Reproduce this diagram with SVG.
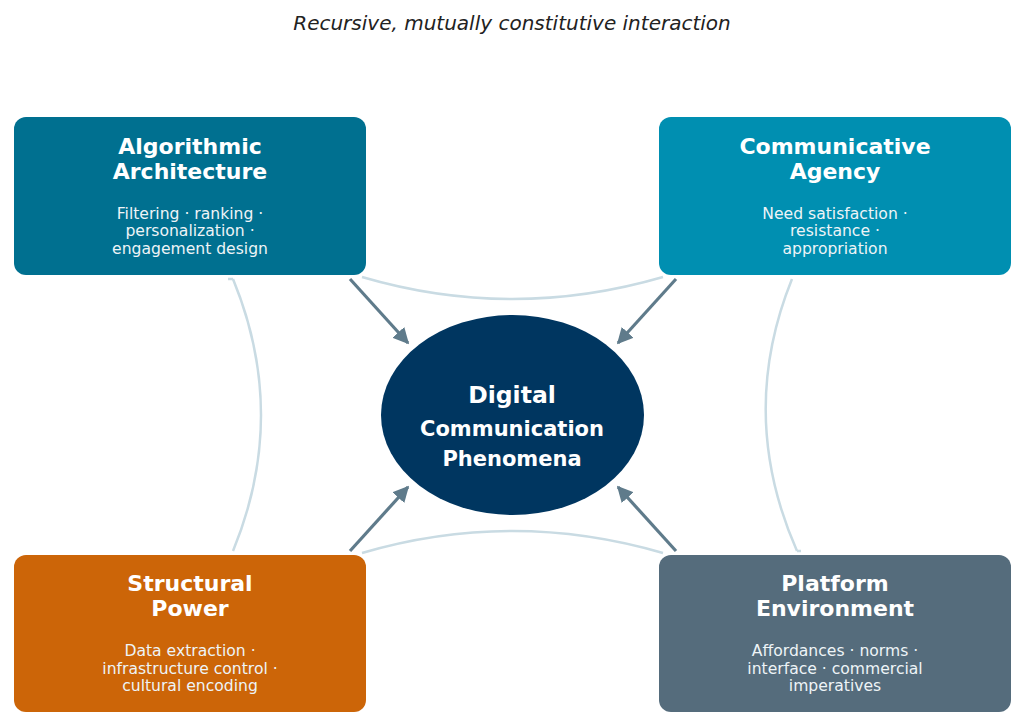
<svg xmlns="http://www.w3.org/2000/svg" width="1021" height="723" viewBox="0 0 1021 723">
<defs>
<marker id="ah" viewBox="0 0 10 10" refX="9" refY="5" markerWidth="5" markerHeight="5" markerUnits="strokeWidth" orient="auto">
<path d="M0,0 L10,5 L0,10 z" fill="#5f7b8b"/>
</marker>
</defs>
<style>
.box-title{font-family:"DejaVu Sans",sans-serif;font-weight:bold;font-size:22px;fill:#ffffff;text-anchor:middle}
.box-body{font-family:"DejaVu Sans",sans-serif;font-size:15.6px;fill:#eef4f7;text-anchor:middle}
.arc{fill:none;stroke:#c9dbe3;stroke-width:2.5}
.arrow{stroke:#5f7b8b;stroke-width:3.2;fill:none;marker-end:url(#ah)}
.c-text{font-family:"DejaVu Sans",sans-serif;font-weight:bold;fill:#ffffff;text-anchor:middle}
</style>
<rect width="1021" height="723" fill="#ffffff"/>
<text x="512" y="30" font-family="DejaVu Sans, sans-serif" font-style="italic" font-size="20" fill="#222222" text-anchor="middle">Recursive, mutually constitutive interaction</text>
<g id="connectors">
<path class="arc" d="M362,277 Q512,321 663,277"/>
<path class="arc" d="M362,553 Q512,509 663,553"/>
<path class="arc" d="M233,279 Q289,415 233,551"/>
<path class="arc" d="M228,279 L233,279"/>
<path class="arc" d="M792,279 Q737,415 797,551"/>
<path class="arc" d="M797,551 L801,551"/>
<path class="arrow" d="M350,279 L408,343"/>
<path class="arrow" d="M676,279 L618,343"/>
<path class="arrow" d="M350,551 L408,487"/>
<path class="arrow" d="M676,551 L618,487"/>
</g>
<g id="node-algorithmic">
<rect x="14" y="117" width="352" height="158" rx="12" fill="#007090"/>
<text class="box-title" x="190" y="154">Algorithmic</text>
<text class="box-title" x="190" y="179">Architecture</text>
<text class="box-body" x="190" y="219">Filtering · ranking ·</text>
<text class="box-body" x="190" y="236">personalization ·</text>
<text class="box-body" x="190" y="254">engagement design</text>
</g>
<g id="node-agency">
<rect x="659" y="117" width="352" height="158" rx="12" fill="#008fb1"/>
<text class="box-title" x="835" y="154">Communicative</text>
<text class="box-title" x="835" y="179">Agency</text>
<text class="box-body" x="835" y="219">Need satisfaction ·</text>
<text class="box-body" x="835" y="236">resistance ·</text>
<text class="box-body" x="835" y="254">appropriation</text>
</g>
<g id="node-structural">
<rect x="14" y="555" width="352" height="157" rx="12" fill="#cc6508"/>
<text class="box-title" x="190" y="591">Structural</text>
<text class="box-title" x="190" y="616">Power</text>
<text class="box-body" x="190" y="656">Data extraction ·</text>
<text class="box-body" x="190" y="674">infrastructure control ·</text>
<text class="box-body" x="190" y="691">cultural encoding</text>
</g>
<g id="node-platform">
<rect x="659" y="555" width="352" height="157" rx="12" fill="#556c7c"/>
<text class="box-title" x="835" y="591">Platform</text>
<text class="box-title" x="835" y="616">Environment</text>
<text class="box-body" x="835" y="656">Affordances · norms ·</text>
<text class="box-body" x="835" y="674">interface · commercial</text>
<text class="box-body" x="835" y="691">imperatives</text>
</g>
<g id="node-center">
<ellipse cx="512.5" cy="415" rx="131.5" ry="100" fill="#003660"/>
<text class="c-text" x="512" y="403" font-size="23.5">Digital</text>
<text class="c-text" x="512" y="436" font-size="21">Communication</text>
<text class="c-text" x="512" y="466" font-size="21">Phenomena</text>
</g>
</svg>
